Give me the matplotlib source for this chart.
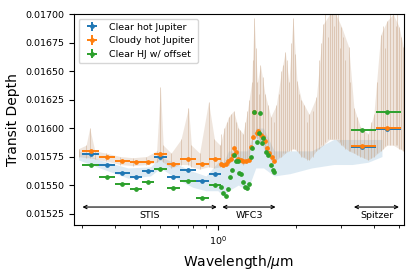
import numpy as np
import matplotlib
matplotlib.use('Agg')
import matplotlib.pyplot as plt
from matplotlib.ticker import FormatStrFormatter, NullFormatter

# STIS bins (edges in micron) and binned transit depths
stis_edges = [0.30, 0.347, 0.40, 0.457, 0.509, 0.566, 0.636, 0.713, 0.822, 0.923, 1.027]
stis_blue = [0.015770, 0.015678, 0.015605, 0.015570, 0.015626, 0.015746, 0.015573, 0.015632, 0.015538, 0.015600]
stis_orange = [0.015800, 0.015743, 0.015713, 0.015699, 0.015699, 0.015775, 0.015687, 0.015725, 0.015687, 0.015730]
stis_green = [0.015675, 0.015573, 0.015506, 0.015468, 0.015524, 0.015643, 0.015474, 0.015535, 0.015389, 0.015500]

# WFC3 points
wfc3_orange_wl = [1.024, 1.048, 1.071, 1.096, 1.119, 1.146, 1.153, 1.174, 1.195, 1.224, 1.252, 1.283,
                  1.314, 1.337, 1.361, 1.381, 1.411, 1.431, 1.462, 1.496, 1.518, 1.550, 1.578, 1.611, 1.645]
wfc3_orange = [0.015684, 0.015678, 0.015684, 0.015711, 0.015728, 0.015763, 0.015827, 0.015787, 0.015728,
               0.015719, 0.015708, 0.015713, 0.015719, 0.015836, 0.015918, 0.016143, 0.015959, 0.015977,
               0.015939, 0.015918, 0.015889, 0.015822, 0.015778, 0.015749, 0.015713]
wfc3_green_wl = [1.027, 1.048, 1.071, 1.096, 1.113, 1.130, 1.153, 1.174, 1.191, 1.208, 1.224, 1.245, 1.268,
                 1.290, 1.314, 1.337, 1.353, 1.381, 1.411, 1.443, 1.452, 1.474, 1.496, 1.532, 1.563, 1.597,
                 1.627, 1.645]
wfc3_green = [0.015485, 0.015432, 0.015404, 0.015462, 0.015567, 0.015632, 0.015763, 0.015713, 0.015711,
              0.015608, 0.015596, 0.015529, 0.015485, 0.015471, 0.015509, 0.015749, 0.015822, 0.016143,
              0.015880, 0.015953, 0.016129, 0.015866, 0.015909, 0.015792, 0.015763, 0.015675, 0.015632,
              0.015617]

# Spitzer channels
spitzer_wl = [3.6, 4.5]
spitzer_lo = [3.26, 4.07]
spitzer_hi = [4.07, 5.1]
spitzer_blue = [0.015833, 0.015989]
spitzer_orange = [0.015845, 0.016000]
spitzer_green = [0.015982, 0.016138]

# model spectra, envelopes
cloudy_wl = [0.29, 0.31, 0.32, 0.335, 0.37, 0.42, 0.47, 0.53, 0.58, 0.60, 0.615, 0.66, 0.72, 0.77, 0.79,
             0.85, 0.92, 0.97, 1.02, 1.06, 1.10, 1.15, 1.20, 1.25, 1.30, 1.35, 1.38, 1.42, 1.46, 1.52,
             1.60, 1.68, 1.76, 1.82, 1.88, 1.95, 2.02, 2.10, 2.25, 2.40, 2.55, 2.70, 2.85, 3.00, 3.20,
             3.35, 3.55, 3.80, 4.00, 4.25, 4.50, 4.75, 5.00, 5.2]
cloudy_lo = [0.01575, 0.01574, 0.01574, 0.01573, 0.01571, 0.01568, 0.01567, 0.01568, 0.01570, 0.01572,
             0.01570, 0.01565, 0.01568, 0.01568, 0.01566, 0.01564, 0.01566, 0.01565, 0.01566, 0.01566,
             0.01568, 0.01575, 0.01570, 0.01568, 0.01570, 0.01585, 0.01595, 0.01590, 0.01588, 0.01580,
             0.01572, 0.01572, 0.01575, 0.01578, 0.01580, 0.01582, 0.01580, 0.01575, 0.01572, 0.01580,
             0.01585, 0.01590, 0.01590, 0.01585, 0.01580, 0.01578, 0.01575, 0.01572, 0.01575, 0.01580,
             0.01585, 0.01585, 0.01582, 0.01580]
cloudy_hi = [0.01582, 0.01585, 0.01600, 0.01580, 0.01578, 0.01575, 0.01574, 0.01575, 0.01580, 0.01636,
             0.01585, 0.01578, 0.01590, 0.01618, 0.01585, 0.01578, 0.01623, 0.01590, 0.01585, 0.01600,
             0.01610, 0.01615, 0.01600, 0.01595, 0.01615, 0.01640, 0.01697, 0.01640, 0.01655, 0.01630,
             0.01610, 0.01620, 0.01650, 0.01667, 0.01640, 0.01697, 0.01641, 0.01625, 0.01612, 0.01627,
             0.01691, 0.01700, 0.01700, 0.01689, 0.01671, 0.01618, 0.01601, 0.01595, 0.01612, 0.01682,
             0.01694, 0.01700, 0.01689, 0.01671]
# extra spikes of the cloudy model (wavelength, bottom, top)
spike_wl = [1.03, 1.08, 1.12, 1.17, 1.22, 1.27, 1.32, 1.37, 1.40, 1.44, 1.49, 1.56, 1.64, 1.72, 1.79,
            1.85, 1.91, 1.98, 2.05, 2.15, 2.20, 2.32, 2.45, 2.50, 2.60, 2.65, 2.75, 2.80, 2.90, 2.95,
            3.05, 3.10, 3.25, 3.45, 3.65, 3.90, 4.10, 4.35, 4.40, 4.60, 4.85, 4.90, 5.10]
spike_bot = [0.01568, 0.01568, 0.01570, 0.01572, 0.01570, 0.01570, 0.01575, 0.01590, 0.01592, 0.01590,
             0.01585, 0.01578, 0.01572, 0.01575, 0.01578, 0.01580, 0.01580, 0.01582, 0.01578, 0.01575,
             0.01572, 0.01575, 0.01582, 0.01585, 0.01588, 0.01590, 0.01590, 0.01590, 0.01590, 0.01588,
             0.01585, 0.01582, 0.01580, 0.01576, 0.01574, 0.01574, 0.01578, 0.01582, 0.01584, 0.01585,
             0.01585, 0.01585, 0.01582]
spike_top = [0.01595, 0.01605, 0.01612, 0.01605, 0.01598, 0.01605, 0.01625, 0.01660, 0.01670, 0.01630,
             0.01645, 0.01620, 0.01605, 0.01630, 0.01655, 0.01660, 0.01675, 0.01665, 0.01630, 0.01620,
             0.01605, 0.01615, 0.01660, 0.01675, 0.01700, 0.01680, 0.01700, 0.01690, 0.01700, 0.01670,
             0.01680, 0.01660, 0.01640, 0.01610, 0.01598, 0.01605, 0.01640, 0.01690, 0.01670, 0.01700,
             0.01690, 0.01700, 0.01680]
clear_wl = [0.29, 0.35, 0.45, 0.55, 0.60, 0.70, 0.80, 0.90, 1.00, 1.05, 1.10, 1.20, 1.30, 1.40, 1.50,
            1.65, 1.90, 2.30, 2.80, 3.30, 3.80, 4.30]
clear_lo = [0.01572, 0.01565, 0.01556, 0.01558, 0.01565, 0.01555, 0.01548, 0.01545, 0.01545, 0.01540,
            0.01545, 0.01550, 0.01545, 0.01565, 0.01565, 0.01558, 0.01560, 0.01565, 0.01568, 0.01568,
            0.01570, 0.01575]
clear_hi = [0.01580, 0.01572, 0.01565, 0.01566, 0.01575, 0.01568, 0.01562, 0.01558, 0.01570, 0.01570,
            0.01580, 0.01580, 0.01580, 0.01600, 0.01600, 0.01580, 0.01580, 0.01580, 0.01590, 0.01590,
            0.01590, 0.01590]

labels = ['Clear hot Jupiter', 'Cloudy hot Jupiter', 'Clear HJ w/ offset']
colors = ['C0', 'C1', 'C2']
tan = '#c19a78'

fig = plt.figure(figsize=(4.15, 2.77), dpi=100)
ax = fig.add_axes([0.178, 0.188, 0.795, 0.761])

ax.fill_between(clear_wl, clear_lo, clear_hi, color='C0', alpha=0.15, lw=0)
ax.fill_between(cloudy_wl, cloudy_lo, cloudy_hi, color=tan, alpha=0.25, lw=0)
ax.vlines(cloudy_wl, cloudy_lo, cloudy_hi, color=tan, alpha=0.4, lw=0.7)
ax.vlines(spike_wl, spike_bot, spike_top, color=tan, alpha=0.4, lw=0.7)

edges = np.array(stis_edges)
stis_wl = np.sqrt(edges[:-1] * edges[1:])
stis_xerr = [stis_wl - edges[:-1], edges[1:] - stis_wl]
sp_wl = np.array(spitzer_wl)
sp_xerr = [sp_wl - np.array(spitzer_lo), np.array(spitzer_hi) - sp_wl]

kw = dict(fmt='o', ms=2.4, elinewidth=1.4, capsize=0)
yerr = 0.000008
stis_sets = [stis_blue, stis_orange, stis_green]
sp_sets = [spitzer_blue, spitzer_orange, spitzer_green]
for i in range(3):
    ax.errorbar(stis_wl, stis_sets[i], xerr=stis_xerr, yerr=yerr, color=colors[i], label=labels[i], **kw)
    ax.errorbar(sp_wl, sp_sets[i], xerr=sp_xerr, yerr=yerr, color=colors[i], **kw)
    if i == 1:
        ax.errorbar(wfc3_orange_wl, wfc3_orange, yerr=yerr, color='C1', **kw)
    if i == 2:
        ax.errorbar(wfc3_green_wl, wfc3_green, yerr=yerr, color='C2', **kw)

# instrument ranges
arr = dict(arrowstyle='<->', color='k', lw=0.8, shrinkA=0, shrinkB=0, mutation_scale=6)
ax.annotate('', xy=(0.30, 0.015307), xytext=(0.99, 0.015307), arrowprops=arr)
ax.annotate('', xy=(1.04, 0.015307), xytext=(1.67, 0.015307), arrowprops=arr)
ax.annotate('', xy=(3.35, 0.015307), xytext=(5.0, 0.015307), arrowprops=arr)
ax.text(0.545, 0.01523, 'STIS', ha='center', va='center', fontsize=6.8)
ax.text(1.32, 0.01523, 'WFC3', ha='center', va='center', fontsize=6.8)
ax.text(4.1, 0.01523, 'Spitzer', ha='center', va='center', fontsize=6.8)

ax.set_xscale('log')
ax.set_xlim(0.278, 5.22)
ax.set_ylim(0.01515, 0.01700)
ax.yaxis.set_major_formatter(FormatStrFormatter('%.5f'))
ax.xaxis.set_minor_formatter(NullFormatter())
ax.tick_params(labelsize=6.8)
ax.set_xlabel(r'Wavelength/$\mu$m', fontsize=10)
ax.set_ylabel('Transit Depth', fontsize=10)
ax.legend(loc='upper left', fontsize=6.8)

fig.savefig('out.png', dpi=100)
